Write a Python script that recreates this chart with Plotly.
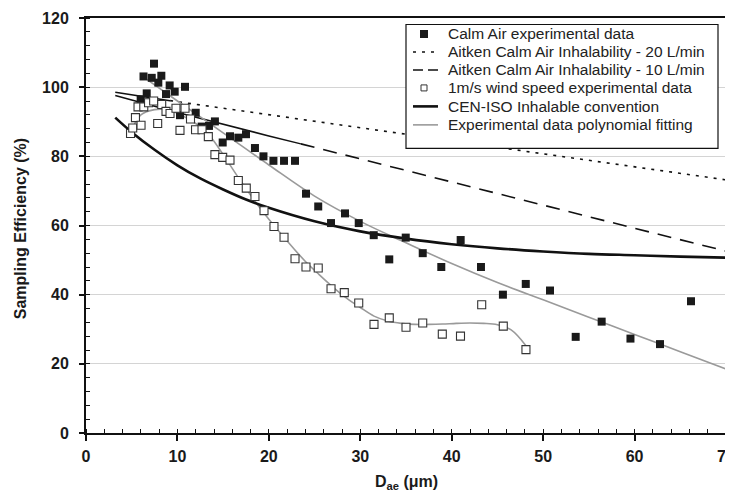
import plotly.graph_objects as go

# Calm air experimental data (filled squares)
calm_x = [5.98, 6.29, 6.64, 7.19, 7.44, 7.91, 8.24, 8.75, 9.15, 9.70, 10.83, 10.28, 12.0, 12.65,
          13.45, 14.1, 14.95, 15.75, 16.66, 17.5, 18.48, 19.41, 20.5, 21.66, 22.86, 24.06, 25.4,
          26.8, 28.33, 29.83, 31.47, 33.17, 34.97, 36.83, 38.86, 40.98, 43.2, 45.6, 48.1, 50.75,
          53.56, 56.4, 59.55, 62.78, 66.17]
calm_y = [96.5, 103.1, 98.2, 102.7, 106.8, 101.3, 103.3, 98.0, 100.5, 98.7, 100.1, 91.9, 92.6, 88.6,
          88.8, 90.1, 84.0, 85.8, 85.4, 86.4, 82.4, 80.0, 78.7, 78.7, 78.7, 69.2, 65.5,
          60.7, 63.5, 60.7, 57.2, 50.2, 56.5, 52.0, 48.0, 55.8, 48.0, 40.0, 43.1, 41.2,
          27.8, 32.2, 27.3, 25.7, 38.1]

# 1 m/s wind speed experimental data (open squares)
wind_x = [4.87, 5.11, 5.41, 5.69, 6.02, 6.32, 6.84, 7.4, 7.84, 8.28, 8.75, 9.19, 9.84, 10.28, 10.83,
          11.43, 11.98, 12.69, 13.38, 14.1, 14.95, 15.75, 16.66, 17.53, 18.48, 19.47, 20.56, 21.66,
          22.86, 24.06, 25.4, 26.8, 28.25, 29.83, 31.5, 33.17, 35.0, 36.83, 38.97, 40.96, 43.28,
          45.64, 48.12]
wind_y = [86.6, 88.2, 91.2, 94.3, 89.0, 94.3, 95.5, 96.0, 89.5, 95.0, 93.0, 92.4, 93.9, 87.5, 93.9,
          90.8, 87.7, 87.7, 85.7, 80.5, 79.7, 78.9, 73.0, 70.8, 68.4, 64.3, 59.7, 56.6,
          50.4, 48.0, 47.7, 41.7, 40.6, 37.6, 31.4, 33.3, 30.6, 31.8, 28.6, 28.0, 37.1,
          30.9, 24.1]

# Aitken calm air inhalability - 20 L/min
a20_x = [3.2, 6, 9.2, 10, 20, 30, 40, 50, 60, 70]
a20_y = [98.5, 97.4, 96.1, 95.8, 92.0, 88.3, 84.6, 80.7, 77.0, 73.2]
a20_solid_n = 3

# Aitken calm air inhalability - 10 L/min
a10_x = [3.2, 10, 20, 23.5, 30, 40, 50, 60, 70]
a10_y = [97.6, 92.7, 85.9, 83.6, 79.3, 72.6, 65.9, 59.2, 52.6]
a10_solid_n = 4

# CEN-ISO inhalable convention
cen_x = [3.2, 5, 7.5, 10, 12.5, 15, 17.5, 20, 25, 30, 35, 40, 45, 50, 55, 60, 65, 70]
cen_y = [91.2, 87.0, 81.9, 77.4, 73.6, 70.4, 67.5, 65.1, 61.2, 58.3, 56.2, 54.6, 53.4, 52.5,
         51.8, 51.4, 51.0, 50.7]

# Polynomial fit of calm air data
fitc_x = [6, 10, 15, 20, 25, 30, 35, 40, 45, 50, 55, 60, 65, 70]
fitc_y = [103.5, 96.0, 86.8, 77.5, 68.5, 61.2, 55.0, 49.0, 43.5, 38.5, 33.5, 28.5, 23.5, 18.5]

# Polynomial fit of wind data
fitw_x = [4.9, 6, 7.5, 9, 10.5, 12, 13.5, 15, 16.5, 18, 19.5, 21, 22.5, 24, 25.5, 27, 28.5, 30,
          31.5, 33, 34.5, 36, 37.5, 39, 40.5, 42, 43.5, 45, 46.5, 48.1]
fitw_y = [87.0, 92.0, 93.5, 93.4, 91.8, 89.5, 86.0, 80.5, 74.5, 68.8, 63.5, 58.6, 54.0, 49.6,
          45.8, 42.2, 39.0, 36.3, 33.8, 32.4, 31.7, 31.4, 31.4, 31.5, 31.7, 31.8, 31.7, 31.3,
          29.8, 25.3]

x_ticks = [0, 10, 20, 30, 40, 50, 60, 70]
y_ticks = [0, 20, 40, 60, 80, 100, 120]

legend_labels = ["Calm Air experimental data",
                 "Aitken Calm Air Inhalability - 20 L/min",
                 "Aitken Calm Air Inhalability - 10 L/min",
                 "1m/s wind speed experimental data",
                 "CEN-ISO Inhalable convention",
                 "Experimental data polynomial fitting"]

FONT = "Liberation Sans, Arial, sans-serif"
BLACK = "#111111"
GREY = "#9a9a9a"

# The page body has an 8px margin, so the figure is sized to fit the 733x491 window.
OFF = 8
W, H = 733 - OFF, 491 - OFF
# plot area in page pixels: x 86..726, y 17.5..433
L, R, T, B = 86 - OFF, W - (726 - OFF), 17.5 - OFF, H - (433 - OFF)
PW, PH = W - L - R, H - T - B


def px(xp):
    """page pixel x -> paper coordinate"""
    return (xp - OFF - L) / PW


def py(yp):
    """page pixel y -> paper coordinate"""
    return (H - B - (yp - OFF)) / PH


fig = go.Figure()

fig.add_trace(go.Scatter(x=a20_x[:a20_solid_n], y=a20_y[:a20_solid_n], mode="lines",
                         line=dict(color=BLACK, width=1.5), name=legend_labels[1], showlegend=False))
fig.add_trace(go.Scatter(x=a20_x[a20_solid_n - 1:], y=a20_y[a20_solid_n - 1:], mode="lines",
                         name=legend_labels[1], showlegend=False,
                         line=dict(color=BLACK, width=1.6, dash="3px,6px")))
fig.add_trace(go.Scatter(x=a10_x[:a10_solid_n], y=a10_y[:a10_solid_n], mode="lines",
                         line=dict(color=BLACK, width=1.5), name=legend_labels[2], showlegend=False))
fig.add_trace(go.Scatter(x=a10_x[a10_solid_n - 1:], y=a10_y[a10_solid_n - 1:], mode="lines",
                         name=legend_labels[2], showlegend=False,
                         line=dict(color=BLACK, width=1.6, dash="14px,9px")))
fig.add_trace(go.Scatter(x=fitc_x, y=fitc_y, mode="lines", name=legend_labels[5], showlegend=False,
                         line=dict(color=GREY, width=1.6, shape="spline")))
fig.add_trace(go.Scatter(x=fitw_x, y=fitw_y, mode="lines", name=legend_labels[5], showlegend=False,
                         line=dict(color=GREY, width=1.6, shape="spline")))
fig.add_trace(go.Scatter(x=cen_x, y=cen_y, mode="lines", name=legend_labels[4], showlegend=False,
                         line=dict(color=BLACK, width=2.6, shape="spline")))
fig.add_trace(go.Scatter(x=calm_x, y=calm_y, mode="markers", name=legend_labels[0], showlegend=False,
                         marker=dict(symbol="square", size=8, color="#1a1a1a", line=dict(width=0))))
fig.add_trace(go.Scatter(x=wind_x, y=wind_y, mode="markers", name=legend_labels[3], showlegend=False,
                         marker=dict(symbol="square", size=8, color="white",
                                     line=dict(width=1.1, color="#333333"))))

# ---- legend box drawn in paper coordinates ----
shapes = []
annotations = []
box_l, box_r, box_t, box_b = 406, 718, 24, 148
shapes.append(dict(type="rect", xref="paper", yref="paper", x0=px(box_l), x1=px(box_r),
                   y0=py(box_b), y1=py(box_t), line=dict(color=BLACK, width=1.2),
                   fillcolor="white", layer="above"))
row_y = [33.5, 51.5, 69.5, 87.5, 106, 124.5]
sym_l, sym_r, sym_c = 413, 438, 424
# row 1: filled square
shapes.append(dict(type="rect", xref="paper", yref="paper", x0=px(sym_c - 4), x1=px(sym_c + 4),
                   y0=py(row_y[0] + 4), y1=py(row_y[0] - 4), line=dict(width=0),
                   fillcolor="#1a1a1a", layer="above"))
# row 2: dotted
shapes.append(dict(type="line", xref="paper", yref="paper", x0=px(sym_l), x1=px(sym_r),
                   y0=py(row_y[1]), y1=py(row_y[1]), line=dict(color=BLACK, width=1.6, dash="3px,6px"),
                   layer="above"))
# row 3: dashed
shapes.append(dict(type="line", xref="paper", yref="paper", x0=px(sym_l), x1=px(sym_r),
                   y0=py(row_y[2]), y1=py(row_y[2]), line=dict(color=BLACK, width=1.6, dash="10px,5px"),
                   layer="above"))
# row 4: open square
shapes.append(dict(type="rect", xref="paper", yref="paper", x0=px(sym_c - 3), x1=px(sym_c + 3),
                   y0=py(row_y[3] + 3), y1=py(row_y[3] - 3), line=dict(width=1, color="#333333"),
                   fillcolor="white", layer="above"))
# row 5: thick black
shapes.append(dict(type="line", xref="paper", yref="paper", x0=px(sym_l), x1=px(sym_r),
                   y0=py(row_y[4]), y1=py(row_y[4]), line=dict(color=BLACK, width=2.6), layer="above"))
# row 6: grey
shapes.append(dict(type="line", xref="paper", yref="paper", x0=px(sym_l), x1=px(sym_r),
                   y0=py(row_y[5]), y1=py(row_y[5]), line=dict(color=GREY, width=1.6), layer="above"))

for label, yy in zip(legend_labels, row_y):
    annotations.append(dict(text=label, xref="paper", yref="paper", x=px(446), y=py(yy),
                            xanchor="left", yanchor="middle", showarrow=False,
                            font=dict(family=FONT, size=15.5, color="#222222")))

# axis titles
annotations.append(dict(text="Sampling Efficiency (%)", xref="paper", yref="paper",
                        x=px(20), y=py(229), xanchor="center", yanchor="middle", textangle=-90,
                        showarrow=False, font=dict(family=FONT, size=16, color="#1a1a1a", weight="bold")))
annotations.append(dict(text="D<sub>ae</sub> (μm)", xref="paper", yref="paper",
                        x=px(406), y=py(483), xanchor="center", yanchor="middle",
                        showarrow=False, font=dict(family=FONT, size=16, color="#1a1a1a", weight="bold")))

axis_font = dict(family=FONT, size=16, color="#1a1a1a", weight="bold")

fig.update_layout(
    width=W, height=H,
    margin=dict(l=L, r=R, t=T, b=B, pad=0),
    paper_bgcolor="white", plot_bgcolor="white",
    font=dict(family=FONT, color="#1a1a1a"),
    showlegend=False,
    shapes=shapes,
    annotations=annotations,
    xaxis=dict(range=[0, 70], tickvals=x_ticks, ticktext=[str(v) for v in x_ticks], automargin=False,
               showgrid=False, zeroline=False, showline=True, linecolor=BLACK, linewidth=2, mirror=True,
               ticks="outside", ticklen=6, tickwidth=1.5, tickcolor=BLACK, tickfont=axis_font,
               ticklabelstandoff=2, ticklabeloverflow="allow",
               minor=dict(dtick=2, ticks="inside", ticklen=4, tickwidth=1, tickcolor=BLACK, showgrid=False)),
    yaxis=dict(range=[0, 120], tickvals=y_ticks, ticktext=[str(v) for v in y_ticks], automargin=False,
               showgrid=True, gridcolor="#d4d4d4", gridwidth=1, zeroline=False,
               showline=True, linecolor=BLACK, linewidth=2, mirror=True,
               ticks="outside", ticklen=5, tickwidth=1.5, tickcolor=BLACK, tickfont=axis_font,
               ticklabelstandoff=7, ticklabeloverflow="allow",
               minor=dict(dtick=4, ticks="inside", ticklen=4, tickwidth=1, tickcolor=BLACK, showgrid=False)),
)

fig.write_html("out.html")
